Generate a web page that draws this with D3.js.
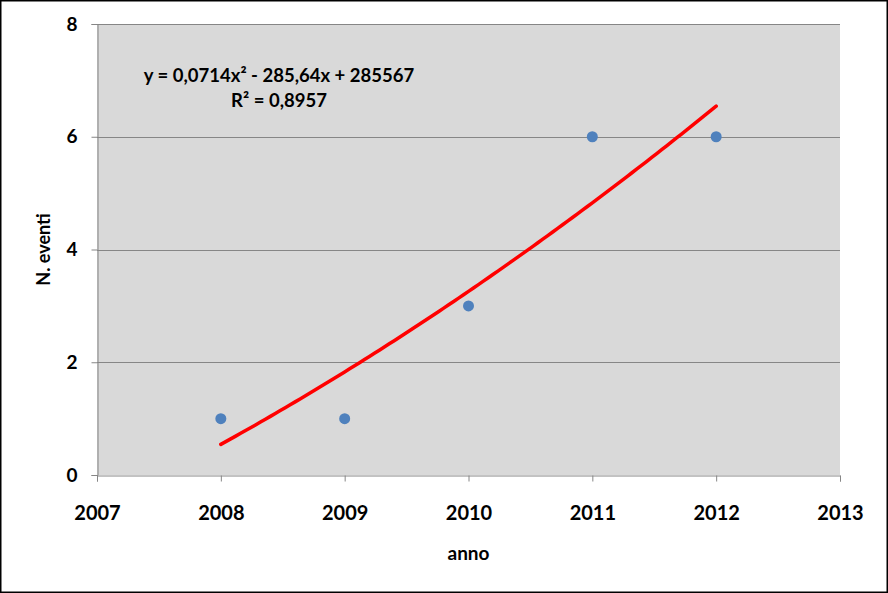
<!DOCTYPE html>
<html><head><meta charset="utf-8">
<script src="https://cdn.jsdelivr.net/npm/d3@7"></script>
<style>
html,body{margin:0;padding:0;background:#fff;}
svg{display:block;}
text{font-family:Lato,"Open Sans",sans-serif;font-weight:bold;fill:#000;}
</style></head><body>
<script>
const years = [2008, 2009, 2010, 2011, 2012];
const events = [1, 1, 3, 6, 6];
const xTicks = [2007, 2008, 2009, 2010, 2011, 2012, 2013];
const yTicks = [0, 2, 4, 6, 8];
const xTitle = "anno";
const yTitle = "N. eventi";
const eqLine1 = "y = 0,0714x² - 285,64x + 285567";
const eqLine2 = "R² = 0,8957";

const W = 888, H = 593;
const m = {left: 97, right: 48, top: 24, bottom: 118};
const svg = d3.select("body").append("svg").attr("width", W).attr("height", H);
svg.append("rect").attr("x", 0.75).attr("y", 0.75).attr("width", W - 1.5).attr("height", H - 1.5)
  .attr("fill", "#fff").attr("stroke", "#000").attr("stroke-width", 1.5);

const x = d3.scaleLinear().domain([2007, 2013]).range([m.left, W - m.right]);
const y = d3.scaleLinear().domain([0, 8]).range([H - m.bottom, m.top]);

svg.append("rect").attr("x", x(2007)).attr("y", y(8)).attr("width", x(2013) - x(2007)).attr("height", y(0) - y(8)).attr("fill", "#d9d9d9");

// gridlines
svg.append("g").selectAll("line").data(yTicks.filter(d => d > 0)).join("line")
  .attr("x1", x(2007)).attr("x2", x(2013)).attr("y1", d => Math.round(y(d)) + 0.5).attr("y2", d => Math.round(y(d)) + 0.5)
  .attr("stroke", "#868686").attr("stroke-width", 1);

// axes
const yAxis = svg.append("g").attr("transform", `translate(${x(2007) + 0.5},0)`)
  .call(d3.axisLeft(y).tickValues(yTicks).tickSize(6).tickPadding(14).tickFormat(d3.format("d")));
const xAxis = svg.append("g").attr("transform", `translate(0,${Math.round(y(0)) + 0.5})`)
  .call(d3.axisBottom(x).tickValues(xTicks).tickSize(6).tickPadding(24).tickFormat(d3.format("d")));
[yAxis, xAxis].forEach(g => {
  g.select(".domain").attr("stroke", "#868686");
  g.selectAll(".tick line").attr("stroke", "#868686");
  g.selectAll(".tick text").attr("fill", "#000").style("font-family", "Lato, 'Open Sans', sans-serif").style("font-weight", "bold");
});
yAxis.selectAll(".tick text").style("font-size", "19px");
xAxis.selectAll(".tick text").style("font-size", "20px");

// quadratic least-squares trendline computed from data
const n = years.length;
const xm = d3.mean(years);
const t = years.map(v => v - xm);
const S = (f) => d3.sum(t.map((ti, i) => f(ti, events[i])));
const s2 = S(ti => ti * ti) / n;
const ym = d3.mean(events);
const b = S((ti, yi) => ti * yi) / S(ti => ti * ti);
const c = S((ti, yi) => (ti * ti - s2) * yi) / S(ti => (ti * ti - s2) ** 2);
const fit = xv => { const tt = xv - xm; return ym + b * tt + c * (tt * tt - s2); };
const fitPts = d3.range(0, 101).map(i => { const xv = years[0] + (years[n - 1] - years[0]) * i / 100; return [xv, fit(xv)]; });

svg.append("path").datum(fitPts)
  .attr("d", d3.line().x(d => x(d[0])).y(d => y(d[1])))
  .attr("fill", "none").attr("stroke", "#ff0000").attr("stroke-width", 3.5).attr("stroke-linecap", "round");

svg.append("g").selectAll("circle").data(years).join("circle")
  .attr("cx", d => x(d)).attr("cy", (d, i) => y(events[i])).attr("r", 5.5).attr("fill", "#4f81bd");

// equation
svg.append("text").attr("x", 279).attr("y", 82).attr("text-anchor", "middle").style("font-size", "18.5px").text(eqLine1);
svg.append("text").attr("x", 279).attr("y", 107).attr("text-anchor", "middle").style("font-size", "18.5px").text(eqLine2);

// titles
svg.append("text").attr("x", x(2010)).attr("y", 560).attr("text-anchor", "middle").style("font-size", "19px").text(xTitle);
svg.append("text").attr("transform", `translate(50,${(y(0) + y(8)) / 2}) rotate(-90)`).attr("text-anchor", "middle").style("font-size", "18px").text(yTitle);
</script>
</body></html>
